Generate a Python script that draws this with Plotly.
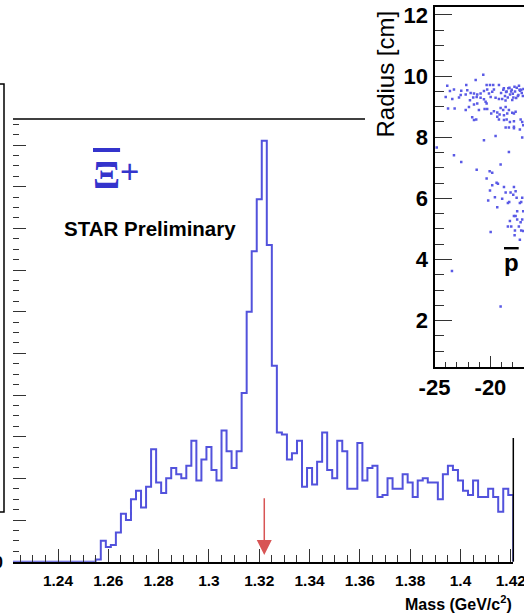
import plotly.graph_objects as go

# ---------------- data ----------------
MASS_LO = 1.221          # lower edge of first bin (GeV/c^2)
BIN_W = 0.002            # bin width
COUNTS = [0, 0, 0, 0, 0, 0, 0, 0, 0, 0,
          0, 0, 0, 0, 0, 0, 0, 1, 10, 7,
          8, 14, 23, 20, 30, 34, 26, 36, 54, 38,
          33, 40, 45, 42, 40, 46, 58, 39, 49, 55,
          44, 39, 63, 53, 45, 53, 81, 120, 149, 174,
          202, 152, 94, 62, 61, 49, 52, 58, 36, 45,
          37, 48, 62, 44, 40, 58, 53, 35, 35, 57,
          39, 45, 46, 31, 32, 40, 35, 35, 42, 38,
          31, 39, 40, 38, 38, 30, 42, 46, 44, 39,
          34, 32, 39, 31, 31, 35, 31, 24, 35, 32]

X_TICKS = [1.24, 1.26, 1.28, 1.30, 1.32, 1.34, 1.36, 1.38, 1.40, 1.42]
X_TICK_LABELS = ["1.24", "1.26", "1.28", "1.3", "1.32", "1.34", "1.36", "1.38", "1.4", "1.42"]
Y_TICKS = [0, 20, 40, 60, 80, 100, 120, 140, 160, 180, 200]
Y_TICK_LABELS = ["0", "", "", "", "", "", "", "", "", "", ""]
XI_MASS = 1.322

INSET_X_TICKS = [-25, -20, -15]
INSET_X_LABELS = ["-25", "-20", "-15"]
INSET_Y_TICKS = [2, 4, 6, 8, 10, 12]
INSET_Y_LABELS = ["2", "4", "6", "8", "10", "12"]

# inset: decay vertex positions (z [cm], radius [cm])
INSET_Z = [-20.64, -21.32, -23.86, -22.16, -20.34, -20.04, -19.75, -19.24, -23.62, -23.26,
           -22.61, -22.07, -22.21, -22.66, -21.77, -21.47, -21.18, -20.88, -20.58, -20.29,
           -20.13, -19.84, -19.69, -24.00, -23.41, -22.81, -21.83, -21.54, -21.23, -20.88,
           -20.58, -19.98, -19.54, -19.24, -20.43, -20.34, -21.47, -21.18, -21.92, -22.21,
           -23.79, -23.20, -21.03, -20.52, -20.29, -19.93, -19.69, -19.39, -19.09, -18.86,
           -18.64, -18.35, -18.05, -17.90, -17.75, -19.18, -18.79, -18.50, -19.39, -21.63,
           -21.47, -21.27, -19.24, -18.79, -18.55, -18.26, -17.90, -17.30, -17.16, -17.07,
           -18.64, -18.35, -17.90, -17.90, -17.37, -20.58, -19.54, -17.16, -24.80, -18.35,
           -23.26, -22.61, -19.09, -21.23, -20.07, -19.84, -20.34, -19.45, -19.33, -19.84,
           -18.79, -17.90, -20.04, -18.64, -18.20, -17.75, -17.96, -19.60, -18.95, -17.66,
           -17.16, -20.20, -18.44, -18.32, -17.37, -17.25, -19.39, -17.61, -17.07, -17.90,
           -17.75, -17.61, -17.16, -18.26, -17.30, -18.44, -18.14, -17.46, -19.98, -17.81,
           -17.25, -17.07, -17.84, -17.37, -23.44, -19.09,
           -19.05, -18.85, -18.70, -18.55, -18.40, -18.25, -18.10, -17.95, -17.80, -17.65,
           -17.50, -17.35, -17.20, -17.05, -18.95, -18.60, -18.30, -18.00, -17.70, -17.40,
           -17.10, -18.80, -18.45, -18.15, -17.85, -17.55, -17.25, -18.65, -18.05, -17.45]
INSET_R = [10.04, 9.87, 9.68, 9.71, 9.71, 9.71, 9.71, 9.71, 9.51, 9.56,
           9.52, 9.54, 9.40, 9.38, 9.45, 9.43, 9.40, 9.43, 9.51, 9.56,
           9.43, 9.49, 9.56, 9.32, 9.25, 9.30, 9.21, 9.30, 9.32, 9.29,
           9.24, 9.32, 9.29, 9.25, 9.16, 9.10, 9.07, 9.10, 8.99, 8.89,
           8.94, 8.94, 8.89, 8.92, 8.92, 8.78, 8.85, 8.81, 8.96, 8.89,
           8.99, 8.89, 8.80, 8.78, 8.83, 8.74, 8.72, 8.78, 8.67, 8.65,
           8.56, 8.58, 8.58, 8.56, 8.58, 8.50, 8.52, 8.58, 8.50, 8.39,
           8.32, 8.32, 8.34, 8.29, 8.25, 7.90, 8.04, 7.99, 7.66, 7.52,
           7.41, 7.19, 7.11, 6.94, 6.89, 6.84, 6.65, 6.51, 6.48, 6.43,
           6.37, 6.37, 6.26, 6.19, 6.19, 6.23, 6.12, 6.04, 5.99, 6.02,
           6.02, 5.93, 5.85, 5.88, 5.85, 5.88, 5.71, 5.58, 5.58, 5.42,
           5.42, 5.31, 5.31, 5.26, 5.22, 5.08, 5.08, 5.08, 4.90, 4.95,
           4.95, 4.93, 4.79, 4.65, 3.62, 2.46,
           9.45, 9.55, 9.35, 9.50, 9.60, 9.40, 9.55, 9.30, 9.50, 9.62,
           9.38, 9.52, 9.45, 9.58, 9.25, 9.48, 9.62, 9.42, 9.28, 9.55,
           9.35, 9.60, 9.30, 9.50, 9.65, 9.35, 9.55, 9.20, 9.22, 9.68]

# ---------------- figure ----------------
W, H = 524, 615
SANS = "Liberation Sans, Arial, Helvetica, sans-serif"
HIST_BLUE = "#5252dc"

edges = [MASS_LO + BIN_W * k for k in range(len(COUNTS) + 1)]
xs = edges[:-1] + [edges[-1], edges[-1]]
ys = COUNTS + [COUNTS[-1], 0]

fig = go.Figure()
fig.add_trace(go.Scatter(x=xs, y=ys, mode="lines",
                         line=dict(shape="hv", color=HIST_BLUE, width=2),
                         xaxis="x", yaxis="y", hoverinfo="skip", cliponaxis=True))
fig.add_trace(go.Scatter(x=INSET_Z, y=INSET_R, mode="markers",
                         marker=dict(symbol="square", size=2.5, color="#5a5ae6", line=dict(width=0)),
                         xaxis="x2", yaxis="y2", hoverinfo="skip"))

main_x_dom = [13 / W, 513.3 / W]
main_y_dom = [1 - 561.7 / H, 1 - 119 / H]
ins_x_dom = [434.5 / W, 1.0]
ins_y_dom = [1 - 366.5 / H, 1 - 6.7 / H]

tick_common = dict(ticks="inside", tickwidth=1, tickcolor="#333", showgrid=False,
                   zeroline=False, automargin=False, ticklabeloverflow="allow")

fig.update_layout(
    width=W, height=H, margin=dict(l=0, r=0, t=0, b=0, autoexpand=False),
    paper_bgcolor="white", plot_bgcolor="rgba(0,0,0,0)", showlegend=False,
    xaxis=dict(domain=main_x_dom, range=[1.2221, 1.4210], anchor="y",
               tickmode="array", tickvals=X_TICKS, ticktext=X_TICK_LABELS, ticklen=13,
               showline=True, linecolor="black", linewidth=1.5, ticklabelstandoff=4,
               tickfont=dict(family=SANS, size=15.5, color="black", weight="bold"),
               minor=dict(tickmode="linear", tick0=1.22, dtick=0.005, ticks="inside",
                          ticklen=7, tickcolor="#333", tickwidth=1, showgrid=False),
               **tick_common),
    yaxis=dict(domain=main_y_dom, range=[0, 212.5], anchor="x",
               tickmode="array", tickvals=Y_TICKS, ticktext=Y_TICK_LABELS, ticklen=13,
               showline=False, ticklabelstandoff=9,
               tickfont=dict(family=SANS, size=17, color="black", weight="bold"),
               minor=dict(tickmode="linear", tick0=0, dtick=5, ticks="inside",
                          ticklen=6, tickcolor="#333", tickwidth=1, showgrid=False),
               **tick_common),
    xaxis2=dict(domain=ins_x_dom, range=[-25, -17.0], anchor="y2",
                tickmode="array", tickvals=INSET_X_TICKS, ticktext=INSET_X_LABELS, ticklen=11,
                showline=True, mirror=True, linecolor="black", linewidth=2,
                tickfont=dict(family=SANS, size=22, color="black", weight="bold"),
                minor=dict(tickmode="linear", tick0=-25, dtick=1, ticks="inside",
                           ticklen=5, tickcolor="#333", tickwidth=1, showgrid=False),
                **tick_common),
    yaxis2=dict(domain=ins_y_dom, range=[0.5, 12.27], anchor="x2",
                tickmode="array", tickvals=INSET_Y_TICKS, ticktext=INSET_Y_LABELS, ticklen=17,
                showline=True, linecolor="black", linewidth=2,
                tickfont=dict(family=SANS, size=22, color="black", weight="bold"),
                minor=dict(tickmode="linear", tick0=0, dtick=0.5, ticks="inside",
                           ticklen=9, tickcolor="#333", tickwidth=1, showgrid=False),
                **tick_common),
)

# frame pieces of main histogram (top edge up to the inset, right edge below it)
fig.add_shape(type="line", xref="x domain", yref="y domain", x0=0, x1=0.7036, y0=1, y1=1,
              line=dict(color="black", width=1.5))
fig.add_shape(type="line", xref="x domain", yref="y domain", x0=1, x1=1, y0=0, y1=0.2794,
              line=dict(color="black", width=1.5))
# edge of the neighbouring panel at far left
fig.add_shape(type="rect", xref="paper", yref="paper", x0=-0.05, x1=4 / W,
              y0=1 - 512 / H, y1=1 - 84 / H, line=dict(color="black", width=1.5))

# arrow at the Xi mass
fig.add_annotation(x=XI_MASS, y=3.2, ax=XI_MASS, ay=31.2, xref="x", yref="y",
                   axref="x", ayref="y", text="", showarrow=True,
                   arrowhead=2, arrowsize=2, arrowwidth=1.5, arrowcolor="#d85555", standoff=0)

fig.add_annotation(text="<b>STAR Preliminary</b>", xref="paper", yref="paper",
                   x=149.5 / W, y=1 - 228 / H, xanchor="center", yanchor="middle",
                   showarrow=False, font=dict(family=SANS, size=20.5, color="black"))
# anti-Xi symbol: overlined Xi with a plus sign
fig.add_annotation(text="<b><span style='text-decoration:overline'>\u039e</span></b>",
                   xref="paper", yref="paper",
                   x=106 / W, y=1 - 174 / H, xanchor="center", yanchor="middle",
                   showarrow=False, font=dict(family="Liberation Serif, DejaVu Serif, serif",
                                              size=40, color="#3434cc"))
fig.add_annotation(text="+", xref="paper", yref="paper",
                   x=129 / W, y=1 - 171 / H, xanchor="center", yanchor="middle",
                   showarrow=False, font=dict(family=SANS, size=33, color="#3434cc"))
fig.add_annotation(text="<b>Mass (GeV/c<sup>2</sup>)</b>", xref="paper", yref="paper",
                   x=514 / W, y=1 - 603 / H, xanchor="right", yanchor="middle",
                   showarrow=False, font=dict(family=SANS, size=16, color="black"))
fig.add_annotation(text="Radius [cm]", xref="paper", yref="paper", textangle=-90,
                   x=385 / W, y=1 - 9 / H, xanchor="center", yanchor="top",
                   showarrow=False, font=dict(family=SANS, size=24, color="black"))
fig.add_annotation(text="<b><span style='text-decoration:overline'>p</span></b>",
                   xref="paper", yref="paper",
                   x=511 / W, y=1 - 262 / H, xanchor="center", yanchor="middle",
                   showarrow=False, font=dict(family=SANS, size=24, color="black"))

# remove the default page margin so the figure sits at the window's top-left corner
fig.write_html("out.html", config={"displayModeBar": False},
               post_script="document.body.style.margin='0';")
